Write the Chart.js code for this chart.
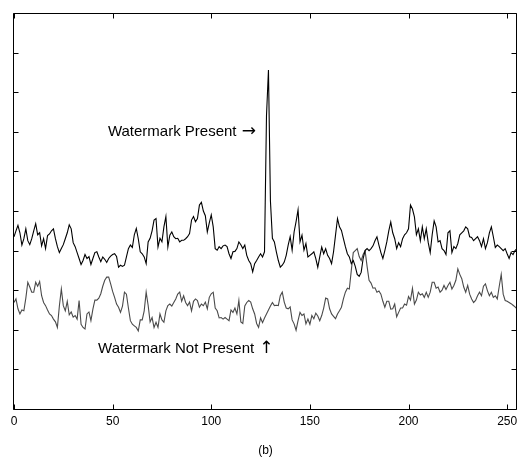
<!DOCTYPE html>
<html>
<head>
<meta charset="utf-8">
<script src="https://cdn.jsdelivr.net/npm/chart.js@4.4.1/dist/chart.umd.min.js"></script>
<style>
html,body{margin:0;padding:0;background:#fff;}
#wrap{width:518px;height:457px;}
</style>
</head>
<body>
<div id="wrap"><canvas id="c" width="518" height="457"></canvas></div>
<script>
// ---- data ----
const sampleIndex = Array.from({length: 256}, (_, i) => i);
const xTickLabels = [0, 50, 100, 150, 200, 250];
const watermarkPresent = [
  4.35, 4.50, 4.64, 4.45, 4.14, 4.30, 4.55, 4.25, 4.15, 4.30,
  4.50, 4.68, 4.40, 4.45, 4.12, 4.30, 4.05, 4.38, 4.42, 4.50,
  4.55, 4.30, 4.10, 3.95, 4.05, 4.15, 4.30, 4.45, 4.65, 4.55,
  4.20, 4.10, 3.95, 3.80, 3.65, 3.75, 3.90, 3.80, 3.85, 3.65,
  3.80, 3.95, 3.97, 3.84, 3.72, 3.84, 3.78, 3.70, 3.80, 3.86,
  3.90, 3.92, 3.85, 3.58, 3.63, 3.60, 3.63, 3.84, 4.05, 4.14,
  4.08, 4.40, 4.56, 4.30, 3.97, 3.92, 3.84, 3.67, 4.22, 4.31,
  4.50, 4.77, 4.81, 4.09, 4.31, 4.22, 4.60, 4.86, 4.09, 4.39,
  4.47, 4.35, 4.30, 4.31, 4.22, 4.26, 4.26, 4.30, 4.35, 4.43,
  4.77, 4.86, 4.73, 4.81, 5.15, 5.22, 5.00, 4.88, 4.47, 4.70,
  4.90, 4.60, 4.05, 4.01, 4.10, 4.05, 4.12, 4.14, 4.10, 3.92,
  3.80, 3.97, 3.98, 4.05, 4.22, 4.15, 4.05, 4.14, 3.88, 3.75,
  3.67, 3.46, 3.67, 3.75, 3.84, 3.92, 3.84, 3.97, 7.40, 8.56,
  5.25, 4.31, 4.22, 3.97, 3.75, 3.58, 3.63, 3.71, 3.88, 4.14,
  4.35, 4.01, 4.47, 4.73, 5.03, 4.22, 4.39, 4.01, 4.18, 3.84,
  3.88, 3.92, 3.97, 3.80, 3.58, 3.84, 4.09, 3.92, 4.05, 3.88,
  3.80, 3.67, 3.97, 4.39, 4.81, 4.60, 4.51, 4.30, 4.10, 3.92,
  3.84, 3.67, 3.75, 3.60, 3.40, 3.35, 3.45, 3.80, 4.00, 4.05,
  4.00, 4.05, 4.12, 4.25, 4.35, 4.14, 3.95, 3.80, 4.00, 4.22,
  4.50, 4.72, 4.45, 4.30, 4.05, 4.20, 4.10, 4.30, 4.40, 4.45,
  4.55, 5.15, 5.05, 4.85, 4.40, 4.55, 4.25, 4.60, 4.30, 4.55,
  4.20, 3.95, 4.40, 4.75, 4.60, 4.22, 4.25, 4.05, 4.00, 3.90,
  4.45, 4.50, 3.95, 4.10, 4.05, 4.18, 4.40, 4.45, 4.50, 4.60,
  4.55, 4.35, 4.33, 4.25, 4.30, 4.35, 4.25, 4.10, 4.30, 4.05,
  4.20, 4.45, 4.60, 4.35, 4.08, 4.14, 4.10, 4.05, 4.00, 4.05,
  3.92, 3.80, 3.95, 3.90, 4.00, 4.05
];
const watermarkNotPresent = [
  2.69, 2.78, 2.53, 2.40, 2.50, 2.48, 2.80, 3.20, 3.08, 2.95,
  2.95, 3.20, 3.10, 3.22, 2.86, 2.69, 2.61, 2.50, 2.40, 2.36,
  2.27, 2.20, 2.06, 2.60, 3.03, 2.61, 2.48, 2.72, 2.38, 2.45,
  2.32, 2.36, 2.27, 2.74, 2.14, 2.06, 2.02, 2.40, 2.45, 2.23,
  2.52, 2.75, 2.75, 2.80, 2.91, 3.10, 3.25, 3.33, 3.33, 3.16,
  2.97, 2.82, 2.65, 2.57, 2.44, 2.60, 2.95, 2.90, 2.55, 2.23,
  2.14, 2.10, 2.06, 1.97, 2.25, 2.25, 2.48, 2.95, 2.62, 2.20,
  2.31, 2.06, 2.19, 2.06, 2.40, 2.25, 2.19, 2.48, 2.61, 2.65,
  2.60, 2.69, 2.78, 2.90, 2.95, 2.72, 2.86, 2.69, 2.61, 2.70,
  2.48, 2.72, 2.78, 2.74, 2.57, 2.65, 2.61, 2.70, 2.53, 2.82,
  2.91, 2.95, 2.55, 2.48, 2.30, 2.31, 2.27, 2.31, 2.27, 2.23,
  2.50, 2.44, 2.55, 2.40, 2.74, 2.20, 2.16, 2.60, 2.69, 2.74,
  2.70, 2.53, 2.40, 2.16, 2.06, 2.30, 2.18, 2.30, 2.40, 2.50,
  2.60, 2.69, 2.61, 2.62, 2.61, 2.86, 2.95, 2.70, 2.55, 2.53,
  2.58, 2.25, 2.15, 1.99, 2.23, 2.44, 2.36, 2.40, 2.15, 2.27,
  2.14, 2.36, 2.28, 2.42, 2.35, 2.23, 2.36, 2.55, 2.80, 2.78,
  2.53, 2.40, 2.34, 2.28, 2.40, 2.48, 2.57, 2.78, 2.95, 3.05,
  3.03, 3.50, 3.95, 4.00, 4.05, 3.85, 3.75, 3.90, 4.00, 3.60,
  3.25, 3.18, 3.05, 3.06, 2.95, 2.98, 2.90, 2.72, 2.57, 2.72,
  2.72, 2.52, 2.53, 2.65, 2.33, 2.44, 2.55, 2.55, 2.65, 2.62,
  2.84, 2.75, 3.05, 2.65, 2.75, 2.95, 2.88, 2.91, 2.82, 2.95,
  2.82, 2.95, 3.20, 3.20, 3.05, 3.08, 2.95, 3.00, 3.12, 3.02,
  3.12, 3.20, 3.03, 3.12, 3.25, 3.54, 3.40, 3.29, 3.08, 2.95,
  3.12, 2.90, 2.78, 2.69, 2.74, 2.86, 2.95, 2.86, 3.10, 3.16,
  2.99, 2.86, 2.95, 2.82, 2.86, 2.78, 3.10, 3.40, 2.90, 2.74,
  2.72, 2.69, 2.66, 2.62, 2.58, 2.53
];
const annotations = [
  {text: 'Watermark Present', arrow: '\u2192', x: 47.6, y: 7.0},
  {text: 'Watermark Not Present', arrow: '\u2191', x: 42.6, y: 1.52}
];
const subLabel = '(b)';

const FONT = '"Liberation Sans", Arial, "DejaVu Sans", sans-serif';

const boxPlugin = {
  id: 'matlabBox',
  afterDatasetsDraw(chart) {
    const {ctx, chartArea: a, scales: {x, y}} = chart;
    ctx.save();
    ctx.strokeStyle = '#000';
    ctx.lineWidth = 1;
    const L = Math.round(a.left) - 0.5, R = Math.round(a.right) - 0.5;
    const T = Math.round(a.top) + 0.5, B = Math.round(a.bottom) + 0.5;
    ctx.beginPath();
    ctx.rect(L, T, R - L, B - T);
    const tl = 5;
    x.ticks.forEach(t => {
      const px = Math.round(x.getPixelForValue(t.value)) + 0.5;
      ctx.moveTo(px, B); ctx.lineTo(px, B - tl);
      ctx.moveTo(px, T); ctx.lineTo(px, T + tl);
    });
    y.ticks.forEach(t => {
      const py = Math.round(y.getPixelForValue(t.value)) + 0.5;
      ctx.moveTo(L, py); ctx.lineTo(L + tl, py);
      ctx.moveTo(R, py); ctx.lineTo(R - tl, py);
    });
    ctx.stroke();
    ctx.fillStyle = '#000';
    ctx.textBaseline = 'middle';
    ctx.textAlign = 'left';
    annotations.forEach(an => {
      const px = x.getPixelForValue(an.x), py = y.getPixelForValue(an.y);
      ctx.font = '15px ' + FONT;
      ctx.fillText(an.text, px, py);
      const w = ctx.measureText(an.text + ' ').width;
      ctx.font = '17px "DejaVu Sans", sans-serif';
      ctx.fillText(an.arrow, px + w + 1, py);
    });
    ctx.restore();
  }
};

new Chart(document.getElementById('c'), {
  type: 'line',
  data: {
    labels: sampleIndex,
    datasets: [
      {label: 'Watermark Present', data: watermarkPresent, borderColor: '#000000', borderWidth: 1.1, pointRadius: 0, tension: 0, fill: false},
      {label: 'Watermark Not Present', data: watermarkNotPresent, borderColor: '#4a4a4a', borderWidth: 1.1, pointRadius: 0, tension: 0, fill: false}
    ]
  },
  options: {
    responsive: false,
    animation: false,
    devicePixelRatio: 1,
    layout: {padding: {left: 0, right: 1, top: 13, bottom: 0}},
    plugins: {legend: {display: false}, tooltip: {enabled: false}},
    scales: {
      x: {
        type: 'linear', min: 0, max: 255, position: 'bottom',
        grid: {display: false, drawTicks: false},
        border: {display: false},
        ticks: {
          stepSize: 50, includeBounds: false, autoSkip: false, maxRotation: 0,
          padding: 5, color: '#000', font: {family: FONT, size: 12},
          callback: (v) => xTickLabels.includes(v) ? String(v) : ''
        },
        title: {display: true, text: subLabel, color: '#000', font: {family: FONT, size: 12, lineHeight: 1}, padding: {top: 0, bottom: 0}},
        afterFit: (s) => { s.height = 48; s.paddingLeft = 0; s.paddingRight = 0; }
      },
      y: {
        type: 'linear', min: 0, max: 10,
        grid: {display: false, drawTicks: false},
        border: {display: false},
        ticks: {display: false, stepSize: 1},
        afterFit: (s) => { s.width = 14; }
      }
    }
  },
  plugins: [boxPlugin]
});
</script>
</body>
</html>
